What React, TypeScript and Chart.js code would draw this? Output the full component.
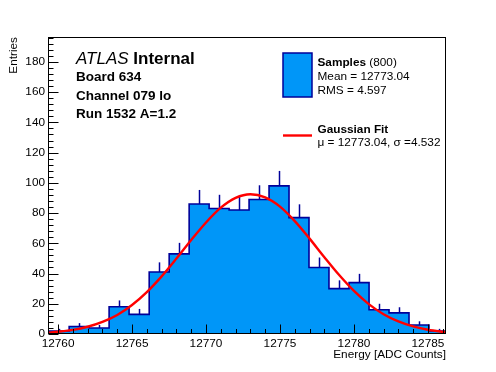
import React, { useEffect, useRef } from "react";
import { Chart, registerables } from "chart.js";

Chart.register(...registerables);

// ---- data ----
const binEdges = [
  12759.4, 12760.75, 12762.1, 12763.45, 12764.8, 12766.16, 12767.51, 12768.86,
  12770.21, 12771.56, 12772.91, 12774.26, 12775.61, 12776.96, 12778.31,
  12779.67, 12781.02, 12782.37, 12783.72, 12785.07, 12786.42,
];
const counts = [2, 5, 4, 18, 13, 41, 53, 86, 83, 82, 89, 98, 77, 44, 30, 34, 16, 14, 6, 2];
const errors = [1.4, 2.2, 2, 4.2, 3.6, 6.4, 7.3, 9.3, 9.1, 9.1, 9.4, 9.9, 8.8, 6.6, 5.5, 5.8, 4, 3.7, 2.4, 1.4];
const fitX = [
  12759.3, 12760, 12761, 12762, 12763, 12764, 12765, 12766, 12767, 12768, 12769,
  12770, 12771, 12772, 12773, 12774, 12775, 12776, 12777, 12778, 12779, 12780,
  12781, 12782, 12783, 12784, 12785, 12786, 12786.2,
];
const fitY = [
  0.9, 1.5, 2.7, 4.8, 8.0, 12.6, 19.2, 27.7, 38.1, 49.9, 62.2, 73.8, 83.6, 90.1,
  92.5, 90.4, 84.3, 74.7, 63.1, 50.8, 39.0, 28.5, 19.8, 13.1, 8.3, 5.0, 2.8, 1.5, 1.3,
];
const xRange = [12759.32, 12786.22];
const yRange = [0, 196.5];
const xTickStep = 5;
const yTickStep = 20;

const atlasLines = ["Board 634", "Channel 079 lo", "Run 1532 A=1.2"];
const sampleStats = ["Mean = 12773.04", "RMS = 4.597"];
const fitStats = "\u03bc = 12773.04, \u03c3 =4.532";

const FAMILY = '"Liberation Sans", Arial, Helvetica, sans-serif';
const FILL = "#0096f8";
const NAVY = "#000099";
const RED = "#ff0000";

const rootPlugin = {
  id: "rootStyle",
  afterDatasetDraw(chart: any, args: any) {
    if (args.index !== 1) return;
    const { ctx, chartArea: a, scales } = chart;
    const x = scales.x;
    const y = scales.y;
    ctx.save();
    ctx.beginPath();
    ctx.rect(a.left, a.top, a.right - a.left, a.bottom - a.top);
    ctx.clip();
    ctx.strokeStyle = NAVY;
    ctx.lineWidth = 1.5;
    counts.forEach((c, i) => {
      const xc = Math.round(x.getPixelForValue((binEdges[i] + binEdges[i + 1]) / 2)) + 0.5;
      ctx.beginPath();
      ctx.moveTo(xc, y.getPixelForValue(c));
      ctx.lineTo(xc, y.getPixelForValue(c + errors[i]));
      ctx.stroke();
    });
    ctx.restore();
  },
  afterDatasetsDraw(chart: any) {
    const { ctx, chartArea: a, scales } = chart;
    const x = scales.x;
    const y = scales.y;
    ctx.save();
    ctx.strokeStyle = "#000";
    ctx.lineWidth = 1;
    const L = Math.round(a.left) + 0.5;
    const B = Math.round(a.bottom) - 0.5;
    for (let v = Math.ceil(x.min); v <= x.max; v++) {
      const px = Math.round(x.getPixelForValue(v)) + 0.5;
      const len = v % 5 === 0 ? 9 : 4.5;
      ctx.beginPath();
      ctx.moveTo(px, B);
      ctx.lineTo(px, B - len);
      ctx.stroke();
    }
    for (let v = 0; v <= y.max; v += 4) {
      const py = Math.round(y.getPixelForValue(v)) + 0.5;
      const len = v % 20 === 0 ? 10 : 5;
      ctx.beginPath();
      ctx.moveTo(L, py);
      ctx.lineTo(L + len, py);
      ctx.stroke();
    }
    const T = Math.round(a.top) + 0.5;
    const R = Math.round(a.right) - 0.5;
    ctx.strokeRect(L, T, R - L, B - T);
    ctx.restore();
  },
  afterDraw(chart: any) {
    const { ctx, chartArea: a } = chart;
    ctx.save();
    ctx.fillStyle = "#000";
    ctx.textBaseline = "alphabetic";
    ctx.textAlign = "left";
    // ATLAS label
    ctx.font = `italic 17px ${FAMILY}`;
    ctx.fillText("ATLAS", 76, 64);
    const w = ctx.measureText("ATLAS ").width;
    ctx.font = `bold 17px ${FAMILY}`;
    ctx.fillText("Internal", 76 + w, 64);
    ctx.font = `bold 13.5px ${FAMILY}`;
    atlasLines.forEach((t, i) => ctx.fillText(t, 76, 81 + i * 18.5));

    // legend
    ctx.fillStyle = FILL;
    ctx.fillRect(283, 53, 29, 44);
    ctx.strokeStyle = NAVY;
    ctx.lineWidth = 1.5;
    ctx.strokeRect(283, 53, 29, 44);
    ctx.fillStyle = "#000";
    ctx.font = `bold 11.8px ${FAMILY}`;
    ctx.fillText("Samples", 317.5, 66);
    const ws = ctx.measureText("Samples").width;
    ctx.font = `11.8px ${FAMILY}`;
    ctx.fillText(" (800)", 317.5 + ws, 66);
    sampleStats.forEach((t, i) => ctx.fillText(t, 317.5, 79.5 + i * 14));
    ctx.strokeStyle = RED;
    ctx.lineWidth = 2.4;
    ctx.beginPath();
    ctx.moveTo(283, 135.5);
    ctx.lineTo(312, 135.5);
    ctx.stroke();
    ctx.font = `bold 11.8px ${FAMILY}`;
    ctx.fillText("Gaussian Fit", 317.5, 132.5);
    ctx.font = `11.8px ${FAMILY}`;
    ctx.fillText(fitStats, 317.5, 146);

    // axis titles
    ctx.textAlign = "right";
    ctx.fillText("Energy [ADC Counts]", a.right, 358);
    ctx.translate(17, a.top);
    ctx.rotate(-Math.PI / 2);
    ctx.fillText("Entries", 0, 0);
    ctx.restore();
  },
};

export default function App() {
  const ref = useRef<HTMLCanvasElement>(null);
  useEffect(() => {
    const histData: { x: number; y: number }[] = [{ x: binEdges[0], y: 0 }];
    counts.forEach((c, i) => histData.push({ x: binEdges[i], y: c }));
    histData.push({ x: binEdges[counts.length], y: counts[counts.length - 1] });
    histData.push({ x: binEdges[counts.length], y: 0 });
    const fitData = fitX.map((x, i) => ({ x, y: fitY[i] }));
    const tickFont = { family: FAMILY, size: 11.8 };
    const chart = new Chart(ref.current as HTMLCanvasElement, {
      type: "line",
      data: {
        datasets: [
          {
            label: "Gaussian Fit",
            data: fitData,
            borderColor: RED,
            borderWidth: 2.4,
            pointRadius: 0,
            cubicInterpolationMode: "monotone",
            fill: false,
            order: 0,
          },
          {
            label: "Samples",
            data: histData,
            stepped: "before",
            borderColor: NAVY,
            borderWidth: 1.6,
            backgroundColor: FILL,
            fill: "origin",
            pointRadius: 0,
            order: 1,
          },
        ],
      } as any,
      options: {
        animation: false,
        responsive: false,
        layout: { padding: { top: 37, right: 50, left: 0, bottom: 0 } },
        plugins: {
          legend: { display: false },
          tooltip: { enabled: false },
          title: { display: false },
        },
        scales: {
          x: {
            type: "linear",
            min: xRange[0],
            max: xRange[1],
            grid: { display: false, drawTicks: false },
            border: { display: false },
            ticks: {
              stepSize: xTickStep,
              includeBounds: false,
              autoSkip: false,
              maxRotation: 0,
              padding: 3,
              color: "#000",
              font: tickFont,
              callback: (v: any) => String(v),
            },
            afterFit: (s: any) => {
              s.height = 38;
            },
          },
          y: {
            type: "linear",
            min: yRange[0],
            max: yRange[1],
            grid: { display: false, drawTicks: false },
            border: { display: false },
            ticks: {
              stepSize: yTickStep,
              includeBounds: false,
              padding: 3,
              color: "#000",
              font: tickFont,
              callback: (v: any) => String(v),
            },
            afterFit: (s: any) => {
              s.width = 48;
            },
          },
        },
      } as any,
      plugins: [rootPlugin],
    });
    return () => chart.destroy();
  }, []);
  return (
    <div style={{ position: "absolute", left: 0, top: 0, width: 496, height: 372, background: "#fff" }}>
      <canvas ref={ref} width={496} height={372} style={{ display: "block" }} />
    </div>
  );
}
